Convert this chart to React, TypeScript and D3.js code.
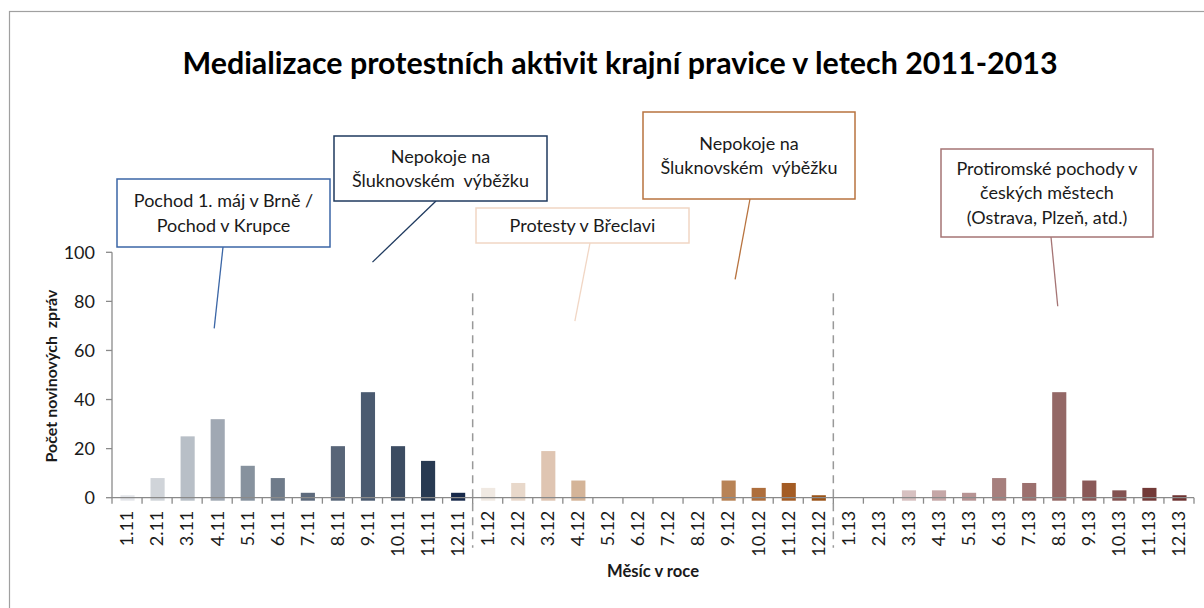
import { useEffect, useRef } from "react";
import * as d3 from "d3";

// months on the x axis, one array per year
const months2011 = ["1.11", "2.11", "3.11", "4.11", "5.11", "6.11", "7.11", "8.11", "9.11", "10.11", "11.11", "12.11"];
const months2012 = ["1.12", "2.12", "3.12", "4.12", "5.12", "6.12", "7.12", "8.12", "9.12", "10.12", "11.12", "12.12"];
const months2013 = ["1.13", "2.13", "3.13", "4.13", "5.13", "6.13", "7.13", "8.13", "9.13", "10.13", "11.13", "12.13"];

// number of news reports per month
const counts2011 = [1, 8, 25, 32, 13, 8, 2, 21, 43, 21, 15, 2];
const counts2012 = [4, 6, 19, 7, 0, 0, 0, 0, 7, 4, 6, 1];
const counts2013 = [0, 0, 3, 3, 2, 8, 6, 43, 7, 3, 4, 1];

const colors2011 = ["#e4e6ea", "#d0d4d9", "#b8bfc7", "#a0a8b3", "#87929e", "#6f7b8a", "#5d6a7c", "#586578", "#4a5a70", "#3c4c62", "#283a52", "#17294a"];
const colors2012 = ["#f0e9e2", "#e8d8ca", "#dfc5b2", "#d4b498", "#cca283", "#c49470", "#bd8a62", "#b98358", "#b88356", "#ae6e3c", "#a45c24", "#9a5216"];
const colors2013 = ["#e2d4d4", "#dccaca", "#d7c1c1", "#c5a7a7", "#b79494", "#a67f7d", "#9c706e", "#946866", "#8a5958", "#835251", "#733a38", "#6e3231"];

const yTicks = [0, 20, 40, 60, 80, 100];

const callouts = [
  { lines: ["Pochod 1. máj v Brně /", "Pochod v Krupce"], month: "4.11", level: 69, dx: -3, box: { x: 117, y: 179, w: 213, h: 68 }, tailX: 223, color: "#3b66a6" },
  { lines: ["Nepokoje na", "Šluknovském  výběžku"], month: "9.11", level: 96, dx: 5, box: { x: 334, y: 136, w: 213, h: 65 }, tailX: 436, color: "#1f3a5f" },
  { lines: ["Protesty v Břeclavi"], month: "4.12", level: 72, dx: -3, box: { x: 476, y: 208, w: 213, h: 35 }, tailX: 590, color: "#f1d6c4" },
  { lines: ["Nepokoje na", "Šluknovském  výběžku"], month: "9.12", level: 89, dx: 7, box: { x: 643, y: 112, w: 212, h: 87 }, tailX: 750, color: "#b8733f" },
  { lines: ["Protiromské pochody v", "českých městech", "(Ostrava, Plzeň, atd.)"], month: "8.13", level: 78, dx: -1, box: { x: 941, y: 149, w: 212, h: 88 }, tailX: 1051, color: "#a57474" },
];

const FONT = "Lato, 'Open Sans', sans-serif";

export default function App() {
  const svgRef = useRef<SVGSVGElement | null>(null);

  useEffect(() => {
    if (!svgRef.current) return;
    const svg = d3.select(svgRef.current);
    svg.selectAll("*").remove();
    const width = 1204;
    const height = 608;

    const months = [...months2011, ...months2012, ...months2013];
    const data = months.map((m, i) => ({
      month: m,
      value: [...counts2011, ...counts2012, ...counts2013][i],
      color: [...colors2011, ...colors2012, ...colors2013][i],
    }));

    const left = 112;
    const right = 1194;
    const x = d3.scaleBand().domain(months).range([left, right]);
    const y = d3.scaleLinear().domain([0, 100]).range([497.7, 252.3]);
    const axisColor = "#8a8a8a";

    svg.append("rect").attr("width", width).attr("height", height).attr("fill", "#fff");
    // outer chart frame
    svg
      .append("rect")
      .attr("x", 9.5)
      .attr("y", 11.5)
      .attr("width", 1200)
      .attr("height", 640)
      .attr("fill", "none")
      .attr("stroke", "#a0a0a0")
      .attr("stroke-width", 1.2);

    // title
    svg
      .append("text")
      .attr("x", 620)
      .attr("y", 74)
      .attr("text-anchor", "middle")
      .attr("font-family", FONT)
      .attr("font-weight", "bold")
      .attr("font-size", 30.4)
      .attr("fill", "#000")
      .text("Medializace protestních aktivit krajní pravice v letech 2011-2013");

    // year separators
    [months2012[0], months2013[0]].forEach((m) => {
      svg
        .append("line")
        .attr("x1", x(m)!)
        .attr("x2", x(m)!)
        .attr("y1", y(83.3))
        .attr("y2", y(0) + 50)
        .attr("stroke", "#999")
        .attr("stroke-width", 1.5)
        .attr("stroke-dasharray", "8,6");
    });

    // bars
    const bw = x.bandwidth() * 0.47;
    svg
      .selectAll(".bar")
      .data(data.filter((d) => d.value > 0))
      .enter()
      .append("rect")
      .attr("class", "bar")
      .attr("x", (d) => x(d.month)! + (x.bandwidth() - bw) / 2 + 0.5)
      .attr("y", (d) => y(d.value))
      .attr("width", bw)
      .attr("height", (d) => y(0) - y(d.value) + 3)
      .attr("fill", (d) => d.color);

    // y axis
    const gy = svg.append("g");
    gy.append("line")
      .attr("x1", left)
      .attr("x2", left)
      .attr("y1", y(100))
      .attr("y2", y(0))
      .attr("stroke", axisColor)
      .attr("stroke-width", 1.3);
    yTicks.forEach((t) => {
      gy.append("line")
        .attr("x1", left - 6)
        .attr("x2", left)
        .attr("y1", y(t))
        .attr("y2", y(t))
        .attr("stroke", axisColor)
        .attr("stroke-width", 1.3);
      gy.append("text")
        .attr("x", 95)
        .attr("y", y(t))
        .attr("dy", "0.35em")
        .attr("text-anchor", "end")
        .attr("font-family", FONT)
        .attr("font-size", 18)
        .attr("fill", "#1a1a1a")
        .text(t);
    });

    // x axis
    const gx = svg.append("g");
    gx.append("line")
      .attr("x1", left)
      .attr("x2", right)
      .attr("y1", y(0))
      .attr("y2", y(0))
      .attr("stroke", axisColor)
      .attr("stroke-width", 1.3);
    const boundaries = [...months.map((m) => x(m)!), right];
    boundaries.forEach((bx) => {
      gx.append("line")
        .attr("x1", bx)
        .attr("x2", bx)
        .attr("y1", y(0))
        .attr("y2", y(0) + 6)
        .attr("stroke", axisColor)
        .attr("stroke-width", 1.3);
    });
    months.forEach((m) => {
      const cx = x(m)! + x.bandwidth() / 2;
      gx.append("text")
        .attr("transform", `translate(${cx},${y(0) + 13}) rotate(-90)`)
        .attr("dy", "0.35em")
        .attr("text-anchor", "end")
        .attr("font-family", FONT)
        .attr("font-size", 18)
        .attr("fill", "#1a1a1a")
        .text(m);
    });

    // axis titles
    svg
      .append("text")
      .attr("x", (left + right) / 2)
      .attr("y", 577)
      .attr("text-anchor", "middle")
      .attr("font-family", FONT)
      .attr("font-weight", "bold")
      .attr("font-size", 16.6)
      .attr("fill", "#1a1a1a")
      .text("Měsíc v roce");
    svg
      .append("text")
      .attr("transform", `translate(57,376) rotate(-90)`)
      .attr("text-anchor", "middle")
      .attr("font-family", FONT)
      .attr("font-weight", "bold")
      .attr("font-size", 16)
      .attr("fill", "#1a1a1a")
      .style("white-space", "pre")
      .text("Počet novinových  zpráv");

    // callouts
    const lineH = 24.5;
    callouts.forEach((c) => {
      const g = svg.append("g");
      g.append("line")
        .attr("x1", c.tailX)
        .attr("y1", c.box.y + c.box.h)
        .attr("x2", x(c.month)! + x.bandwidth() / 2 + c.dx)
        .attr("y2", y(c.level))
        .attr("stroke", c.color)
        .attr("stroke-width", 1.3);
      g.append("rect")
        .attr("x", c.box.x)
        .attr("y", c.box.y)
        .attr("width", c.box.w)
        .attr("height", c.box.h)
        .attr("fill", "#fff")
        .attr("stroke", c.color)
        .attr("stroke-width", 1.5);
      const cy = c.box.y + c.box.h / 2;
      c.lines.forEach((ln, i) => {
        g.append("text")
          .attr("x", c.box.x + c.box.w / 2)
          .attr("y", cy + (i - (c.lines.length - 1) / 2) * lineH)
          .attr("dy", "0.35em")
          .attr("text-anchor", "middle")
          .attr("font-family", FONT)
          .attr("font-size", 18)
          .attr("fill", "#1a1a1a")
          .style("white-space", "pre")
          .text(ln);
      });
    });
  }, []);

  return (
    <svg
      ref={svgRef}
      width={1204}
      height={608}
      style={{ position: "absolute", left: 0, top: 0 }}
    />
  );
}
